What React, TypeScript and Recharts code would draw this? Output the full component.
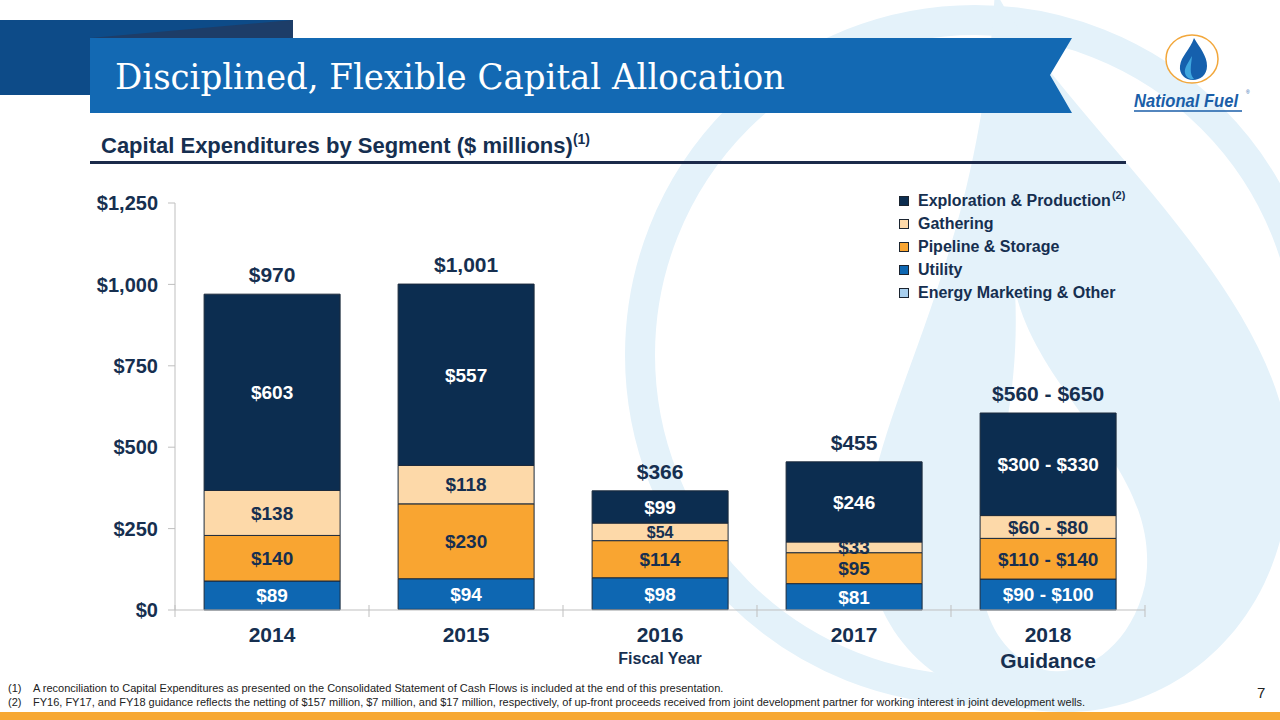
import { BarChart, Bar, XAxis, YAxis, LabelList } from "recharts";

// Fiscal years and the segment capex ($ millions); 2018 uses guidance midpoints
const years = ["2014", "2015", "2016", "2017", "2018"];
const yearNotes = ["", "", "Fiscal Year", "", "Guidance"];
const marketing = [0, 2, 1, 0, 0];
const utility = [89, 94, 98, 81, 95];
const pipeline = [140, 230, 114, 95, 125];
const gathering = [138, 118, 54, 33, 70];
const exploration = [603, 557, 99, 246, 315];

// Labels printed on the bars
const utilityText = ["$89", "$94", "$98", "$81", "$90 - $100"];
const pipelineText = ["$140", "$230", "$114", "$95", "$110 - $140"];
const gatheringText = ["$138", "$118", "$54", "$33", "$60 - $80"];
const explorationText = ["$603", "$557", "$99", "$246", "$300 - $330"];
const totalText = ["$970", "$1,001", "$366", "$455", "$560 - $650"];

const yTicks = [0, 250, 500, 750, 1000, 1250];

const NAVY = "#162f50";
const GRID = "#bfbfbf";
const FONT = "'Liberation Sans', Arial, sans-serif";
const WATERMARK = "#e4f2fa";

const series = [
  { key: "exploration", name: "Exploration & Production", color: "#0c2d50" },
  { key: "gathering", name: "Gathering", color: "#fdd9a9" },
  { key: "pipeline", name: "Pipeline & Storage", color: "#f9a531" },
  { key: "utility", name: "Utility", color: "#0e67b2" },
  { key: "marketing", name: "Energy Marketing & Other", color: "#a9d0ef" },
];

const data = years.map((year, i) => ({
  year,
  marketing: marketing[i],
  utility: utility[i],
  pipeline: pipeline[i],
  gathering: gathering[i],
  exploration: exploration[i],
}));

// label inside a stacked segment
const segmentLabel = (texts: string[], color: string) => (props: any) => {
  const { x, y, width, height, index } = props;
  const fs = height > 14 && height < 22 ? 16 : 19;
  return (
    <text
      x={x + width / 2}
      y={y + height / 2}
      dy="0.36em"
      textAnchor="middle"
      fill={color}
      fontSize={fs}
      fontWeight={700}
      fontFamily={FONT}
    >
      {texts[index]}
    </text>
  );
};

const totalLabel = (props: any) => {
  const { x, y, width, index } = props;
  return (
    <text
      x={x + width / 2}
      y={y - 12}
      textAnchor="middle"
      fill={NAVY}
      fontSize={21}
      fontWeight={700}
      fontFamily={FONT}
    >
      {totalText[index]}
    </text>
  );
};

function YearTick(props: any) {
  const { x, y, payload, index } = props;
  const half = payload?.offset || 97;
  const note = yearNotes[index];
  const isGuidance = index === years.length - 1;
  return (
    <g>
      <line x1={x - half} x2={x - half} y1={y - 5} y2={y + 7} stroke={GRID} />
      {isGuidance && (
        <line x1={x + half} x2={x + half} y1={y - 5} y2={y + 7} stroke={GRID} />
      )}
      <text x={x} y={y + 32} textAnchor="middle" fill={NAVY} fontSize={21} fontWeight={700} fontFamily={FONT}>
        {payload.value}
      </text>
      {note && (
        <text
          x={x}
          y={isGuidance ? y + 58 : y + 54}
          textAnchor="middle"
          fill={NAVY}
          fontSize={isGuidance ? 21 : 16}
          fontWeight={700}
          fontFamily={FONT}
        >
          {note}
        </text>
      )}
    </g>
  );
}

function SlideBackground() {
  return (
    <svg width={1280} height={720} style={{ position: "absolute", left: 0, top: 0 }}>
      <rect width={1280} height={720} fill="#ffffff" />
      {/* faint flame watermark */}
      <circle cx={975} cy={355} r={335} fill="none" stroke={WATERMARK} strokeWidth={30} />
      <path
        d="M 995 -10 C 1060 120 1300 300 1290 480 C 1280 640 1160 715 1060 712 C 930 708 850 620 870 500 C 890 380 980 250 995 -10 Z"
        fill={WATERMARK}
      />
      <path
        d="M 1015 290 C 1040 400 1165 470 1145 585 C 1130 650 1080 678 1045 670 C 990 655 970 590 985 525 C 1000 455 1020 390 1015 290 Z"
        fill="#ffffff"
      />

      {/* title banner */}
      <rect x={0} y={20} width={293} height={75} fill="#0d4b88" />
      <polygon points="90,38 293,20 293,38" fill="#1d3d68" />
      <polygon points="90,38 1072,38 1050,75 1072,113 90,113" fill="#1369b3" />
      <text
        x={115}
        y={89}
        fill="#ffffff"
        fontSize={36}
        fontFamily="'DejaVu Serif', 'Liberation Serif', serif"
        textLength={670}
        lengthAdjust="spacingAndGlyphs"
      >
        Disciplined, Flexible Capital Allocation
      </text>

      {/* logo */}
      <ellipse cx={1192} cy={59} rx={26} ry={24} fill="#ffffff" stroke="#f2a73b" strokeWidth={1.5} />
      <path d="M 1194 38 C 1200 48 1207 56 1207 66 C 1207 75 1200 80 1193 80 C 1185 80 1179 74 1180 66 C 1181 56 1190 50 1194 38 Z" fill="#1560ad" />
      <path d="M 1192 56 C 1188 63 1184 68 1185 73 C 1186 78 1191 80 1194 79 C 1189 74 1191 66 1192 56 Z" fill="#3ea6de" />
      <text
        x={1134}
        y={107}
        fill="#1a5ea8"
        fontSize={18}
        fontWeight={700}
        fontStyle="italic"
        fontFamily={FONT}
        textLength={104}
        lengthAdjust="spacingAndGlyphs"
      >
        National Fuel
      </text>
      <text x={1246} y={94} fill="#1a5ea8" fontSize={5} fontFamily={FONT}>®</text>
      <line x1={1134} x2={1242} y1={111} y2={111} stroke="#1a5ea8" strokeWidth={1.5} />

      {/* subtitle */}
      <text x={101} y={153} fill={NAVY} fontSize={22} fontWeight={700} fontFamily={FONT}>
        Capital Expenditures by Segment ($ millions)
        <tspan fontSize={14} dy={-9}>(1)</tspan>
      </text>
      <rect x={90} y={161} width={1036} height={3} fill="#1b2a4a" />

      {/* footnotes */}
      <text x={8} y={692} fill="#222222" fontSize={11} fontFamily={FONT}>(1)</text>
      <text x={33} y={692} fill="#222222" fontSize={11} fontFamily={FONT}>
        A reconciliation to Capital Expenditures as presented on the Consolidated Statement of Cash Flows is included at the end of this presentation.
      </text>
      <text x={8} y={706} fill="#222222" fontSize={11} fontFamily={FONT}>(2)</text>
      <text x={33} y={706} fill="#222222" fontSize={11} fontFamily={FONT}>
        FY16, FY17, and FY18 guidance reflects the netting of $157 million, $7 million, and $17 million, respectively, of up-front proceeds received from joint development partner for working interest in joint development wells.
      </text>
      <text x={1257} y={698} fill="#222222" fontSize={15} fontFamily={FONT}>7</text>
      <rect x={0} y={712} width={1280} height={8} fill="#f7a833" />
    </svg>
  );
}

function SegmentLegend() {
  return (
    <div style={{ position: "absolute", left: 899, top: 189, fontFamily: FONT, color: NAVY }}>
      {series.map((s, i) => (
        <div key={s.key} style={{ display: "flex", alignItems: "center", height: 23, fontSize: 16, fontWeight: 700 }}>
          <span
            style={{
              display: "inline-block",
              width: 8,
              height: 8,
              background: s.color,
              border: "1px solid #1b2430",
              marginRight: 9,
            }}
          />
          <span>{s.name}</span>
          {i === 0 && (
            <sup style={{ fontSize: 11, position: "relative", top: -6, marginLeft: 1 }}>(2)</sup>
          )}
        </div>
      ))}
    </div>
  );
}

export default function App() {
  return (
    <div style={{ position: "fixed", left: 0, top: 0, width: 1280, height: 720, overflow: "hidden" }}>
      <SlideBackground />
      <div style={{ position: "absolute", left: 0, top: 0 }}>
        <BarChart
          width={1280}
          height={720}
          data={data}
          margin={{ top: 203, right: 135, left: 100, bottom: 50 }}
          barCategoryGap="15%"
        >
          <XAxis
            dataKey="year"
            height={60}
            axisLine={{ stroke: GRID }}
            tickLine={false}
            tickSize={0}
            tickMargin={0}
            interval={0}
            tick={<YearTick />}
          />
          <YAxis
            width={75}
            domain={[0, 1250]}
            ticks={yTicks}
            interval={0}
            tickFormatter={(v: number) => "$" + v.toLocaleString("en-US")}
            axisLine={{ stroke: GRID }}
            tickLine={{ stroke: GRID }}
            tickSize={7}
            tickMargin={10}
            tick={{ fill: NAVY, fontSize: 20, fontWeight: 700, fontFamily: FONT }}
          />
          <Bar dataKey="marketing" stackId="a" fill="#a9d0ef" isAnimationActive={false} />
          <Bar dataKey="utility" stackId="a" fill="#0e67b2" stroke="#1c2a3c" strokeWidth={1} isAnimationActive={false}>
            <LabelList dataKey="utility" content={segmentLabel(utilityText, "#ffffff")} />
          </Bar>
          <Bar dataKey="pipeline" stackId="a" fill="#f9a531" stroke="#1c2a3c" strokeWidth={1} isAnimationActive={false}>
            <LabelList dataKey="pipeline" content={segmentLabel(pipelineText, NAVY)} />
          </Bar>
          <Bar dataKey="gathering" stackId="a" fill="#fdd9a9" stroke="#1c2a3c" strokeWidth={1} isAnimationActive={false}>
            <LabelList dataKey="gathering" content={segmentLabel(gatheringText, NAVY)} />
          </Bar>
          <Bar dataKey="exploration" stackId="a" fill="#0c2d50" stroke="#1c2a3c" strokeWidth={1} isAnimationActive={false}>
            <LabelList dataKey="exploration" content={segmentLabel(explorationText, "#ffffff")} />
            <LabelList dataKey="exploration" content={totalLabel} />
          </Bar>
        </BarChart>
      </div>
      <SegmentLegend />
    </div>
  );
}
